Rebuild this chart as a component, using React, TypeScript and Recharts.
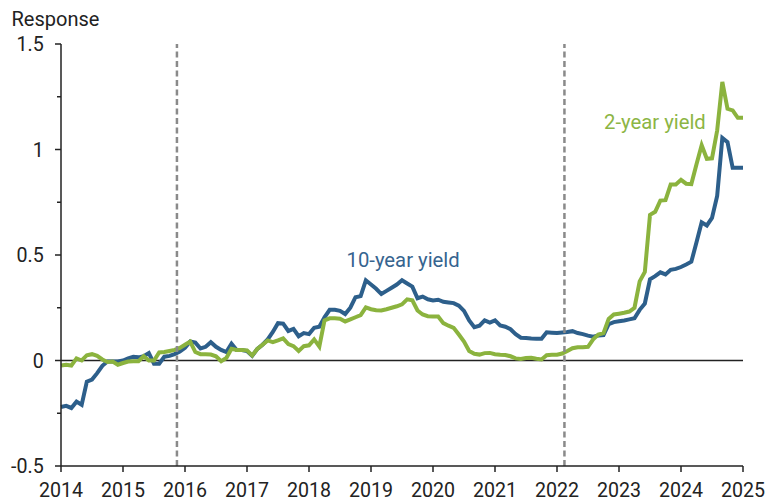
import React from "react";
import { LineChart, Line, XAxis, YAxis, ReferenceLine } from "recharts";

// Monthly observations, Jan 2014 .. Jan 2025
const startYear = 2014;
const tenYear: number[] = [
  -0.22, -0.215, -0.225, -0.195, -0.21, -0.1, -0.09, -0.06, -0.025, -0.005, -0.005, -0.005,
  0.0, 0.01, 0.018, 0.015, 0.02, 0.035, -0.015, -0.015, 0.018, 0.022, 0.03, 0.042,
  0.06, 0.09, 0.085, 0.057, 0.065, 0.087, 0.065, 0.05, 0.04, 0.08, 0.05, 0.05,
  0.045, 0.022, 0.055, 0.075, 0.1, 0.135, 0.177, 0.175, 0.14, 0.15, 0.115, 0.13,
  0.125, 0.155, 0.16, 0.205, 0.24, 0.24, 0.235, 0.22, 0.25, 0.3, 0.305, 0.38,
  0.36, 0.34, 0.315, 0.33, 0.345, 0.36, 0.38, 0.365, 0.35, 0.295, 0.303, 0.29,
  0.285, 0.288, 0.278, 0.275, 0.272, 0.26, 0.235, 0.19, 0.158, 0.165, 0.19, 0.18,
  0.19, 0.166, 0.16, 0.148, 0.125, 0.108, 0.107, 0.104, 0.103, 0.103, 0.134, 0.132,
  0.13, 0.133, 0.135, 0.139, 0.13, 0.125, 0.118, 0.113, 0.118, 0.12, 0.172, 0.182,
  0.186, 0.19, 0.195, 0.2, 0.24, 0.27, 0.385, 0.4, 0.418, 0.408, 0.43, 0.434,
  0.443, 0.455, 0.468, 0.56, 0.655, 0.64, 0.676, 0.78, 1.055, 1.035, 0.913, 0.913,
  0.913,
];
const twoYear: number[] = [
  -0.024, -0.02, -0.024, 0.01, 0.0, 0.025, 0.03, 0.022, 0.005, -0.007, -0.005, -0.02,
  -0.012, -0.005, -0.003, -0.003, 0.02, 0.0, 0.0, 0.038, 0.04, 0.045, 0.05, 0.06,
  0.075, 0.09, 0.04, 0.03, 0.03, 0.028, 0.02, -0.003, 0.012, 0.056, 0.05, 0.05,
  0.048, 0.024, 0.055, 0.075, 0.095, 0.087, 0.095, 0.105, 0.078, 0.068, 0.045, 0.068,
  0.072, 0.1, 0.066, 0.19, 0.2, 0.2, 0.198, 0.185, 0.195, 0.205, 0.215, 0.252,
  0.243, 0.238, 0.237, 0.243, 0.25, 0.257, 0.266, 0.29, 0.285, 0.237, 0.218, 0.21,
  0.208, 0.208, 0.177, 0.165, 0.155, 0.123, 0.09, 0.045, 0.032, 0.028, 0.035, 0.036,
  0.03, 0.027, 0.026, 0.02, 0.01, 0.007, 0.012, 0.013, 0.008, 0.005, 0.025, 0.027,
  0.027, 0.033, 0.045, 0.058, 0.063, 0.063, 0.065, 0.1, 0.123, 0.13, 0.197, 0.218,
  0.222, 0.226, 0.232, 0.25, 0.375, 0.42, 0.69, 0.705, 0.758, 0.76, 0.834, 0.834,
  0.856, 0.838, 0.836, 0.93, 1.02, 0.956, 0.958, 1.09, 1.32, 1.193, 1.185, 1.15,
  1.15,
];
const yearTicks: number[] = [2014, 2015, 2016, 2017, 2018, 2019, 2020, 2021, 2022, 2023, 2024, 2025];
const yTicks: number[] = [-0.5, -0.25, 0, 0.25, 0.5, 0.75, 1, 1.25, 1.5];
const liftoffDates: number[] = [2015.87, 2022.12];
const seriesNames = { ten: "10-year yield", two: "2-year yield" };

const data = tenYear.map((v, i) => ({
  t: startYear + i / 12,
  ten: v,
  two: twoYear[i],
}));

const BLUE = "#2d5f8b";
const GREEN = "#8bb33e";
const FONT = "Roboto, 'Noto Sans', sans-serif";
const TICK_SIZE = 6;
const TICK_MARGIN = 11.3;
const TICK_FS = 19.6;

const YTick = (props: any) => {
  const { x, y, payload } = props;
  const v: number = payload.value;
  const major = Math.abs(v * 2 - Math.round(v * 2)) < 1e-6;
  const axisX = x + TICK_SIZE + TICK_MARGIN;
  return (
    <g>
      <line x1={axisX - (major ? 6 : 4)} x2={axisX} y1={y} y2={y} stroke="#222" strokeWidth={1.5} />
      {major && (
        <text x={x} y={y} dy={7} textAnchor="end" fontSize={TICK_FS} fontFamily={FONT} fill="#222">
          {String(v)}
        </text>
      )}
    </g>
  );
};

export default function App() {
  return (
    <div style={{ position: "fixed", left: 0, top: 0, width: 776, height: 502, background: "#fff" }}>
      <LineChart
        width={776}
        height={502}
        data={data}
        margin={{ top: 44, right: 33, bottom: 0, left: 0 }}
      >
        <XAxis
          dataKey="t"
          type="number"
          domain={[2014, 2025]}
          ticks={yearTicks}
          interval={0}
          allowDecimals={false}
          height={36}
          tickSize={TICK_SIZE}
          tickMargin={11.2}
          axisLine={{ stroke: "#222", strokeWidth: 1.5 }}
          tickLine={{ stroke: "#222", strokeWidth: 1.5 }}
          tick={{ fontSize: TICK_FS, fill: "#222", fontFamily: FONT }}
        />
        <YAxis
          type="number"
          domain={[-0.5, 1.5]}
          ticks={yTicks}
          interval={0}
          width={61}
          tickSize={TICK_SIZE}
          tickMargin={TICK_MARGIN}
          axisLine={{ stroke: "#222", strokeWidth: 1.5 }}
          tickLine={false}
          tick={<YTick />}
        />
        <ReferenceLine y={0} stroke="#222" strokeWidth={1.5} />
        <Line
          type="linear"
          dataKey="ten"
          name={seriesNames.ten}
          stroke={BLUE}
          strokeWidth={4}
          dot={false}
          isAnimationActive={false}
        />
        <Line
          type="linear"
          dataKey="two"
          name={seriesNames.two}
          stroke={GREEN}
          strokeWidth={4}
          dot={false}
          isAnimationActive={false}
        />
        {liftoffDates.map((d) => (
          <ReferenceLine key={d} x={d} stroke="#8a8a8a" strokeWidth={2.5} strokeDasharray="6 3.5" />
        ))}
      </LineChart>
      <svg
        width={776}
        height={502}
        style={{ position: "absolute", left: 0, top: 0, pointerEvents: "none" }}
      >
        <text x={11.5} y={25.7} fontSize={20} fontFamily={FONT} fill="#222">
          Response
        </text>
        <text x={346.5} y={267.3} fontSize={20.3} fontFamily={FONT} fill="#36648f">
          {seriesNames.ten}
        </text>
        <text x={604} y={129} fontSize={20.3} fontFamily={FONT} fill="#8cb544">
          {seriesNames.two}
        </text>
      </svg>
    </div>
  );
}
